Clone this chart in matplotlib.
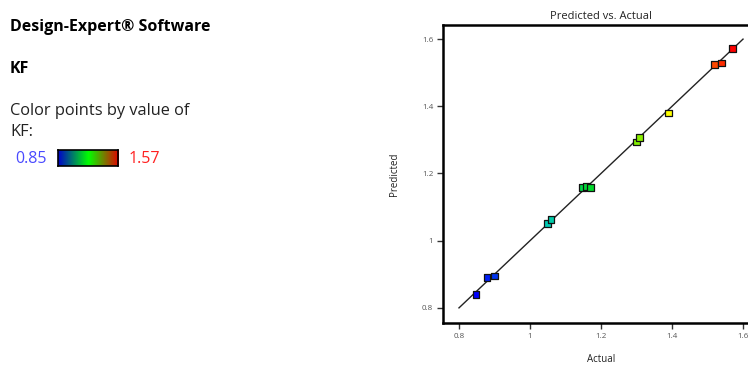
import numpy as np
import matplotlib
matplotlib.use("Agg")
import matplotlib.pyplot as plt
from matplotlib.colors import LinearSegmentedColormap

# Run data: actual and predicted KF
actual = [0.848, 0.879, 0.899, 1.049, 1.059, 1.148, 1.160, 1.171,
          1.300, 1.308, 1.390, 1.519, 1.539, 1.570]
predicted = [0.839, 0.891, 0.895, 1.052, 1.064, 1.159, 1.161, 1.159,
             1.294, 1.306, 1.380, 1.525, 1.529, 1.572]
kf_min, kf_max = 0.85, 1.57
x_ticks = [0.8, 1.0, 1.2, 1.4, 1.6]
y_ticks = [0.8, 1.0, 1.2, 1.4, 1.6]
x_tick_labels = ["0.8", "1", "1.2", "1.4", "1.6"]
y_tick_labels = ["0.8", "1", "1.2", "1.4", "1.6"]
line_range = [0.8, 1.6]

plt.rcParams['font.family'] = ['Open Sans', 'DejaVu Sans']

fig = plt.figure(figsize=(7.48, 3.65), dpi=100)

# Side panel text
fig.text(10/748, 1 - 27/365, "Design-Expert® Software", fontsize=11.5,
         fontweight='bold', va='center', ha='left', color='black')
fig.text(10/748, 1 - 69/365, "KF", fontsize=11.5, fontweight='bold',
         va='center', ha='left', color='black')
fig.text(10/748, 1 - 111/365, "Color points by value of", fontsize=11.8,
         va='center', ha='left', color='#222222')
fig.text(10/748, 1 - 132/365, "KF:", fontsize=11.8, va='center',
         ha='left', color='#222222')
fig.text(15/748, 1 - 159/365, f"{kf_min:.2f}", fontsize=11.5, va='center',
         ha='left', color='#4a4aff')
fig.text(129/748, 1 - 159/365, f"{kf_max:.2f}", fontsize=11.5, va='center',
         ha='left', color='#ff2020')

# Gradient legend bar
bar_cmap = LinearSegmentedColormap.from_list(
    "bar", [(0, 0, 0.8), (0, 1, 0), (0.9, 0, 0)])
cax = fig.add_axes([58/748, 1 - 166/365, 60/748, 16/365])
cax.imshow(np.linspace(0, 1, 256)[None, :], aspect='auto', cmap=bar_cmap)
cax.set_xticks([])
cax.set_yticks([])
for s in cax.spines.values():
    s.set_linewidth(1.2)
    s.set_color('black')

# Point colour scale
pt_cmap = LinearSegmentedColormap.from_list(
    "pts", ['#0000ff', '#00c8c8', '#00dd00', '#ffff00', '#ff0000'])

# Main plot: axes extend slightly past the right edge
x0, x1 = 0.755, 1.645
y0, y1 = 0.755, 1.642
ax = fig.add_axes([443/748, 1 - 323/365, (759 - 443)/748, (323 - 25)/365])
ax.set_xlim(x0, x1)
ax.set_ylim(y0, y1)

ax.plot(line_range, line_range, color='#222222', lw=1.0, zorder=2)
ax.scatter(actual, predicted, c=actual, cmap=pt_cmap, vmin=kf_min,
           vmax=kf_max, marker='s', s=24, edgecolors='#111111',
           linewidths=0.9, zorder=3)

ax.set_xticks(x_ticks)
ax.set_xticklabels(x_tick_labels)
ax.set_yticks(y_ticks)
ax.set_yticklabels(y_tick_labels)
ax.tick_params(direction='out', length=4, width=1, colors='#333333',
               labelsize=5.8, labelcolor='#555555', pad=3)
for side in ['left', 'top', 'bottom', 'right']:
    ax.spines[side].set_linewidth(1.8)
    ax.spines[side].set_color('black')

ax.set_title("Predicted vs. Actual", fontsize=8, color='#222222', pad=4)
ax.set_xlabel("Actual", fontsize=7, color='#222222', labelpad=10)
ax.set_ylabel("Predicted", fontsize=7, color='#222222', labelpad=16)

fig.savefig("out.png", dpi=100)
